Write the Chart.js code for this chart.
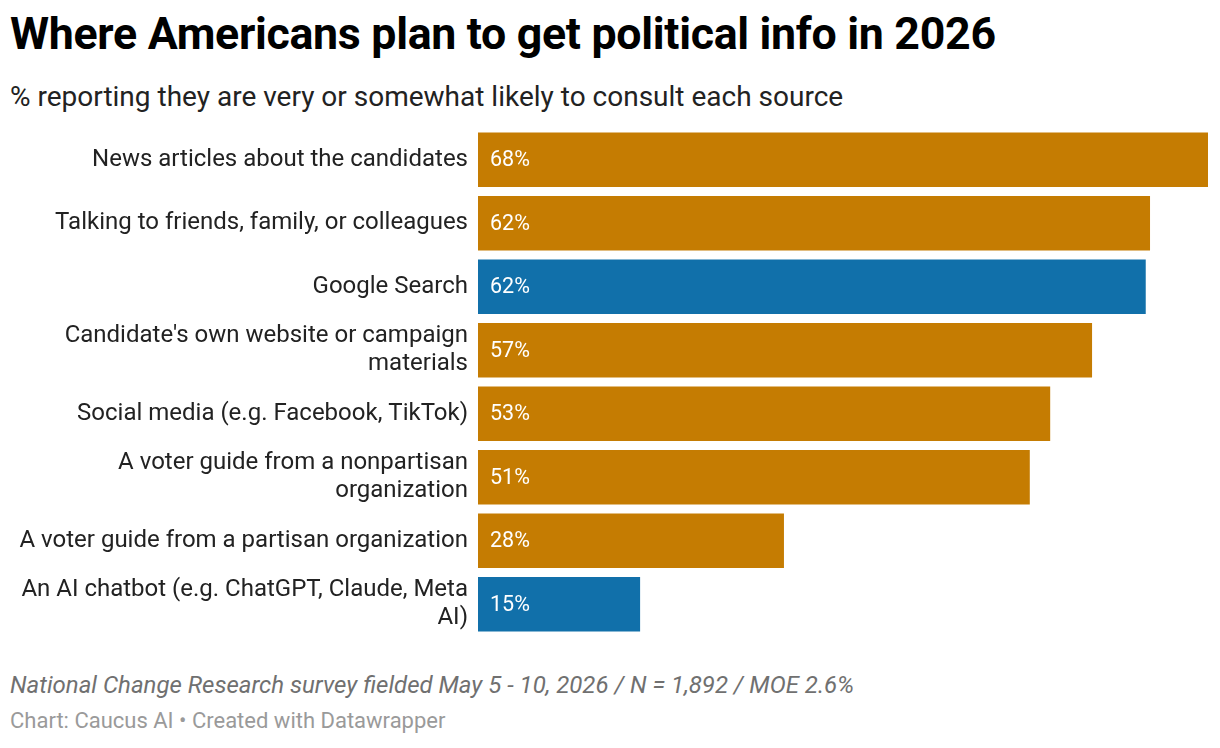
<!DOCTYPE html>
<html><head><meta charset="utf-8">
<script src="https://cdn.jsdelivr.net/npm/chart.js@4"></script>
<style>
body{margin:0;width:1220px;height:748px;background:#fff;font-family:Roboto,sans-serif;position:relative;overflow:hidden}
#t{position:absolute;left:10px;top:8px;font-size:44.7px;font-weight:700;color:#000;letter-spacing:-0.3px}
#s{position:absolute;left:10px;top:80px;font-size:28px;color:#222}
#f{position:absolute;left:10px;top:671px;font-size:24px;font-style:italic;color:#707070}
#c{position:absolute;left:10px;top:708px;font-size:22px;color:#9a9a9a}
#cv{position:absolute;left:0;top:90px}
</style></head><body>
<div id="t">Where Americans plan to get political info in 2026</div>
<div id="s">% reporting they are very or somewhat likely to consult each source</div>
<canvas id="cv" width="1220" height="570"></canvas>
<div id="f">National Change Research survey fielded May 5 - 10, 2026 / N = 1,892 / MOE 2.6%</div>
<div id="c">Chart: Caucus AI • Created with Datawrapper</div>
<script>
const categories=[["News articles about the candidates"],["Talking to friends, family, or colleagues"],["Google Search"],["Candidate's own website or campaign","materials"],["Social media (e.g. Facebook, TikTok)"],["A voter guide from a nonpartisan","organization"],["A voter guide from a partisan organization"],["An AI chatbot (e.g. ChatGPT, Claude, Meta","AI)"]];
const values=[68,62.6,62.2,57.2,53.3,51.4,28.5,15.1];
const labels=["68%","62%","62%","57%","53%","51%","28%","15%"];
const highlight=[false,false,true,false,false,false,false,true];
const colors=highlight.map(h=>h?"#1170aa":"#c57c02");
const lbl={id:"lbl",afterDatasetsDraw(ch){const c=ch.ctx;const m=ch.getDatasetMeta(0);c.save();c.fillStyle="#fff";c.font="21.5px Roboto";c.textBaseline="middle";m.data.forEach((b,i)=>{c.fillText(labels[i],b.base+12,b.y+1)});c.restore();}};
new Chart(document.getElementById("cv"),{type:"bar",data:{labels:categories,datasets:[{data:values,backgroundColor:colors,categoryPercentage:1,barPercentage:0.86}]},
options:{indexAxis:"y",responsive:false,animation:false,layout:{padding:{left:0,right:12,top:0,bottom:0}},
plugins:{legend:{display:false},tooltip:{enabled:false}},
scales:{x:{min:0,max:68,display:false},y:{grid:{display:false,drawTicks:false},border:{display:false},ticks:{color:"#222",font:{family:"Roboto",size:24,lineHeight:1.17},padding:10,autoSkip:false},afterFit(a){a.width=478;}}}},plugins:[lbl]});
</script></body></html>
